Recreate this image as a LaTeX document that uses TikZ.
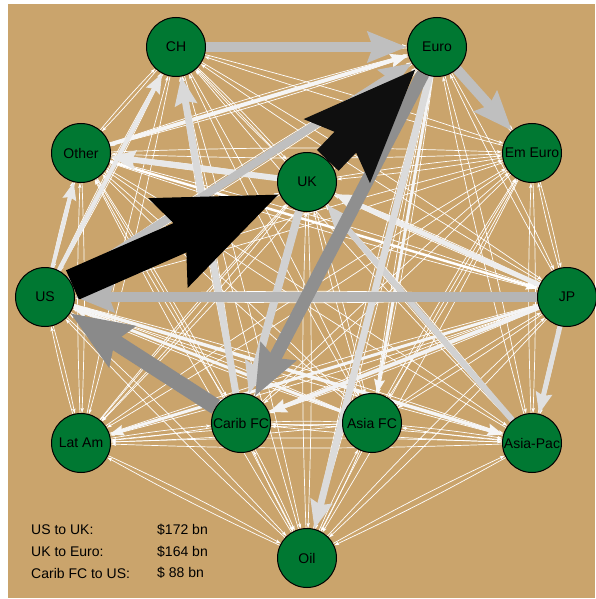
\documentclass[tikz,border=0pt]{standalone}
\usepackage{fontspec}
\setmainfont{Liberation Sans}
\usetikzlibrary{arrows.meta}
\pgfdeclarelayer{bg}
\pgfdeclarelayer{edges}
\pgfsetlayers{bg,edges,main}
\definecolor{tanbg}{RGB}{202,164,108}
\definecolor{nodegreen}{RGB}{0,120,50}
\tikzset{
  country/.style={circle, draw=black, line width=1pt, fill=nodegreen, minimum size=59pt, inner sep=0pt, font=\fontsize{14}{16}\selectfont},
  thinflow/.style={draw=white, line width=0.7pt, -{Stealth[length=5pt,width=3.2pt,inset=1pt]}, bend left=2},
  flow/.style 2 args={draw=#2, line width=#1pt, -{Stealth[length=3pt 3.6,width=2pt 2.8,inset=0pt 0.5]}},
  legend/.style={anchor=west, inner sep=0pt, font=\fontsize{14}{16}\selectfont}
}
\begin{document}
\begin{tikzpicture}[x=1pt,y=-1pt]
\path[use as bounding box] (0,0) rectangle (595,599);
\begin{pgfonlayer}{bg}
\fill[white] (0,0) rectangle (595,599);
\fill[tanbg] (8,4) rectangle (595,598);
\end{pgfonlayer}
% nodes
\node[country] (CH) at (176,47) {\makebox[0pt]{CH}};
\node[country] (Euro) at (437,47) {\makebox[0pt]{Euro}};
\node[country] (Other) at (81,153) {\makebox[0pt]{Other}};
\node[country] (UK) at (307,182) {\makebox[0pt]{UK}};
\node[country] (EmEuro) at (532,153) {\makebox[0pt]{Em Euro}};
\node[country] (US) at (45,297) {\makebox[0pt]{US}};
\node[country] (JP) at (567,297) {\makebox[0pt]{JP}};
\node[country] (LatAm) at (81,443) {\makebox[0pt]{Lat Am}};
\node[country] (Carib) at (241,423) {\makebox[0pt]{Carib FC}};
\node[country] (AsiaFC) at (372,423) {\makebox[0pt]{Asia FC}};
\node[country] (AsiaPac) at (532,443) {\makebox[0pt]{Asia-Pac}};
\node[country] (Oil) at (307,558) {\makebox[0pt]{Oil}};
% legend
\node[legend] (l1) at (31,530) {US to UK:};
\node[legend] (l2) at (31,552) {UK to Euro:};
\node[legend] (l3) at (31,573) {Carib FC to US:};
\node[legend] (v1) at (157,530) {\$172 bn};
\node[legend] (v2) at (157,552) {\$164 bn};
\node[legend] (v3) at (157,573) {\$ 88 bn};
\begin{pgfonlayer}{edges}
% thin flows between all pairs
\foreach \a in {CH,Euro,Other,UK,EmEuro,US,JP,LatAm,Carib,AsiaFC,AsiaPac,Oil}{
  \foreach \b in {CH,Euro,Other,UK,EmEuro,US,JP,LatAm,Carib,AsiaFC,AsiaPac,Oil}{
    \ifx\a\b\else\draw[thinflow] (\a) to (\b);\fi
  }
}
% medium white flows
\draw[flow={2.5}{white}] (Other) -- (JP);
\draw[flow={3}{white!96!black}] (AsiaFC) -- (US);
\draw[flow={3}{white!96!black}] (Euro) -- (AsiaFC);
\draw[flow={3.5}{white!96!black}] (US) -- (AsiaPac);
\draw[flow={3}{white!96!black}] (JP) -- (LatAm);
\draw[flow={4}{white!95!black}] (JP) -- (Carib);
\draw[flow={4}{white!96!black}] (Other) -- (Euro);
\draw[flow={4}{white!91!black}] (US) -- (Other);
\draw[flow={4.5}{white!91!black}] (US) -- (CH);
\draw[flow={5}{white!93!black}] (JP) -- (UK);
\draw[flow={5}{white!88!black}] (JP) -- (AsiaPac);
\draw[flow={6}{white!91!black}] (UK) -- (Other);
% light gray flows
\draw[flow={6}{white!82!black}] (AsiaPac) -- (UK);
\draw[flow={7}{white!86!black}] (Euro) -- (Oil);
\draw[flow={7}{white!85!black}] (Carib) -- (CH);
\draw[flow={8}{white!82!black}] (UK) -- (Carib);
\draw[flow={8}{white!75!black}] (US) -- (Euro);
\draw[flow={10}{white!75!black}] (Euro) -- (EmEuro);
\draw[flow={10}{white!75!black}] (CH) -- (Euro);
\draw[flow={10}{white!71!black}] (JP) -- (US);
% dark gray flows
\draw[flow={13}{white!56!black}] (Euro) -- (Carib);
\draw[flow={16}{white!54!black}] (Carib) -- (US);
% largest flows
\draw[flow={30}{white!6!black}] (UK) -- (Euro);
\draw[flow={32}{black}] (US) -- (UK);
\end{pgfonlayer}
\end{tikzpicture}
\end{document}
